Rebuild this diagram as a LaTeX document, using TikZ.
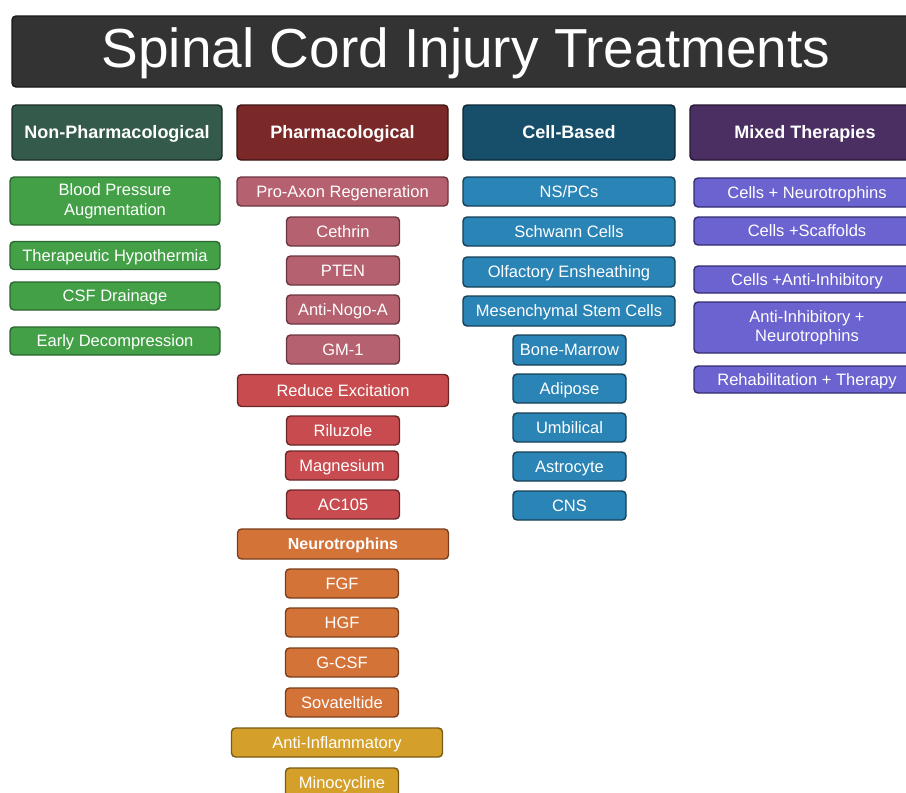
\documentclass[tikz,border=0pt]{standalone}
\usepackage{fontspec}
\setmainfont{Liberation Sans}
\begin{document}
\begin{tikzpicture}[x=1pt, y=-1pt,
  box/.style={rectangle, rounded corners=4pt, line width=1.4pt, text=white, align=center, inner sep=0pt, minimum height=29pt, text height=11.8pt, text depth=0pt, font=\fontsize{16.5}{19.5}\selectfont},
  twoline/.style={text height={}, text depth={}},
  headbox/.style={box, minimum height=55pt, text height=12.9pt, font=\fontsize{18}{21}\selectfont\bfseries},
  wide/.style={minimum width=211pt},
  narrow/.style={minimum width=113pt},
  npitem/.style={box, fill=sciGreen, draw=sciGreenLine},
  phitem/.style={box, fill=sciRose, draw=sciRoseLine},
  exitem/.style={box, fill=sciRed, draw=sciRedLine},
  ntitem/.style={box, fill=sciOrange, draw=sciOrangeLine},
  aiitem/.style={box, fill=sciMustard, draw=sciMustardLine},
  cbitem/.style={box, fill=sciBlue, draw=sciBlueLine},
  mxitem/.style={box, fill=sciPurple, draw=sciPurpleLine, minimum width=226pt}]
% colours picked from the figure
\definecolor{sciTitle}{HTML}{333333}
\definecolor{sciHeadNP}{HTML}{335A4A}
\definecolor{sciHeadPh}{HTML}{7B2828}
\definecolor{sciHeadCB}{HTML}{174F6B}
\definecolor{sciHeadMx}{HTML}{4B2F62}
\definecolor{sciGreen}{HTML}{43A047}
\definecolor{sciGreenLine}{HTML}{2B6630}
\definecolor{sciRose}{HTML}{B5616F}
\definecolor{sciRoseLine}{HTML}{6B3540}
\definecolor{sciRed}{HTML}{C84C4F}
\definecolor{sciRedLine}{HTML}{6B2628}
\definecolor{sciOrange}{HTML}{D47338}
\definecolor{sciOrangeLine}{HTML}{7A3E1C}
\definecolor{sciMustard}{HTML}{D4A02A}
\definecolor{sciMustardLine}{HTML}{7A5A18}
\definecolor{sciBlue}{HTML}{2A84B5}
\definecolor{sciBlueLine}{HTML}{173F55}
\definecolor{sciPurple}{HTML}{6B63CF}
\definecolor{sciPurpleLine}{HTML}{332C70}
\useasboundingbox (0,0) rectangle (906,793);
\clip (0,0) rectangle (906,793);
% Title bar (runs off the right edge)
\node[box, fill=sciTitle, draw=black!90, minimum width=908pt, minimum height=71pt, text height=31.4pt, font=\fontsize{55}{60}\selectfont] (title) at (466,51.5) {Spinal Cord Injury Treatments};
% Column headers
\node[headbox, fill=sciHeadNP, draw=sciHeadNP!50!black, minimum width=210pt] (headNP) at (117,132.5) {Non-Pharmacological};
\node[headbox, fill=sciHeadPh, draw=sciHeadPh!50!black, minimum width=211pt] (headPh) at (342.5,132.5) {Pharmacological};
\node[headbox, fill=sciHeadCB, draw=sciHeadCB!50!black, minimum width=212pt] (headCB) at (569,132.5) {Cell-Based};
\node[headbox, fill=sciHeadMx, draw=sciHeadMx!50!black, minimum width=230pt] (headMx) at (805,132.5) {Mixed Therapies};
% Non-pharmacological
\node[npitem, twoline, minimum width=210pt, minimum height=48pt] (bpAug) at (115,201) {Blood Pressure\\Augmentation};
\node[npitem, minimum width=210pt, minimum height=28pt] (hypo) at (115,255.5) {Therapeutic Hypothermia};
\node[npitem, minimum width=210pt, minimum height=28pt] (csf) at (115,296) {CSF Drainage};
\node[npitem, minimum width=210pt, minimum height=28pt] (decomp) at (115,341) {Early Decompression};
% Pharmacological
\node[phitem, wide] (proAxon) at (342.5,191.5) {Pro-Axon Regeneration};
\node[phitem, narrow] (cethrin) at (343,231.5) {Cethrin};
\node[phitem, narrow] (pten) at (343,270.5) {PTEN};
\node[phitem, narrow] (nogo) at (343,309.5) {Anti-Nogo-A};
\node[phitem, narrow] (gm1) at (343,349.5) {GM-1};
\node[exitem, wide, minimum height=32pt] (reduceExc) at (343,390.5) {Reduce Excitation};
\node[exitem, narrow] (riluzole) at (343,430.5) {Riluzole};
\node[exitem, narrow] (magnesium) at (342,465.5) {Magnesium};
\node[exitem, narrow] (ac105) at (343,504.5) {AC105};
\node[ntitem, wide, minimum height=30pt, font=\fontsize{16}{19}\selectfont\bfseries] (neurotroph) at (343,544) {Neurotrophins};
\node[ntitem, narrow] (fgf) at (342,583.5) {FGF};
\node[ntitem, narrow] (hgf) at (342,622.5) {HGF};
\node[ntitem, narrow] (gcsf) at (342,662.5) {G-CSF};
\node[ntitem, narrow] (sovatel) at (342,702.5) {Sovateltide};
\node[aiitem, wide] (antiInfl) at (337,742.5) {Anti-Inflammatory};
\node[aiitem, narrow] (minocyc) at (342,782.5) {Minocycline};
% Cell-based
\node[cbitem, minimum width=212pt] (nspc) at (569,191.5) {NS/PCs};
\node[cbitem, minimum width=212pt] (schwann) at (569,231.5) {Schwann Cells};
\node[cbitem, minimum width=212pt, minimum height=30pt] (olfactory) at (569,272) {Olfactory Ensheathing};
\node[cbitem, minimum width=212pt, minimum height=30pt] (mesench) at (569,311) {Mesenchymal Stem Cells};
\node[cbitem, narrow, minimum height=30pt] (boneMarrow) at (569.5,350) {Bone-Marrow};
\node[cbitem, narrow] (adipose) at (569.5,388.5) {Adipose};
\node[cbitem, narrow] (umbilical) at (569.5,427.5) {Umbilical};
\node[cbitem, narrow] (astrocyte) at (569.5,466.5) {Astrocyte};
\node[cbitem, narrow] (cns) at (569.5,505.5) {CNS};
% Mixed therapies (run off the right edge)
\node[mxitem] (cellsNeuro) at (807,192.5) {Cells + Neurotrophins};
\node[mxitem, minimum height=28pt] (cellsScaff) at (807,231) {Cells +Scaffolds};
\node[mxitem, minimum height=27pt] (cellsAntiInh) at (807,279.5) {Cells +Anti-Inhibitory};
\node[mxitem, twoline, minimum height=51pt] (antiInhNeuro) at (807,327.5) {Anti-Inhibitory +\\Neurotrophins};
\node[mxitem, minimum height=27pt] (rehab) at (807,379.5) {Rehabilitation + Therapy};
\end{tikzpicture}
\end{document}
